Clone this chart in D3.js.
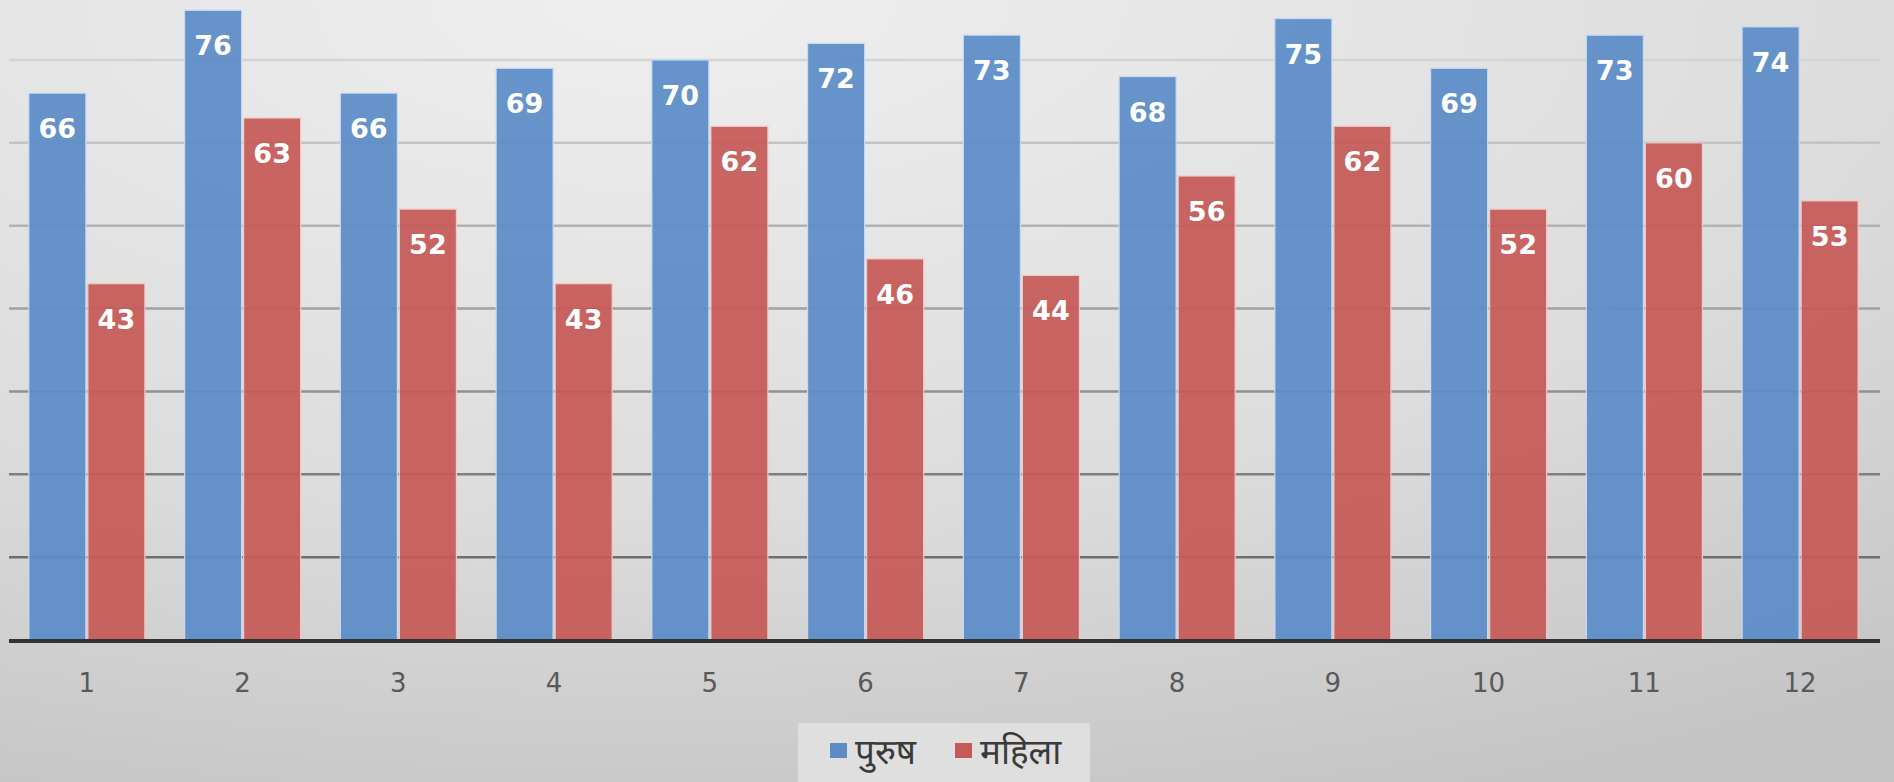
<!DOCTYPE html>
<html>
<head>
<meta charset="utf-8">
<script src="https://cdn.jsdelivr.net/npm/d3@7"></script>
<style>
html,body{margin:0;padding:0;overflow:hidden;}
svg{display:block;}
</style>
</head>
<body>
<svg id="chart" width="1894" height="782"></svg>
<script>
const categories = ["1","2","3","4","5","6","7","8","9","10","11","12"];
const seriesNames = ["पुरुष","महिला"];
const maleValues = [66,76,66,69,70,72,73,68,75,69,73,74];
const femaleValues = [43,63,52,43,62,46,44,56,62,52,60,53];
const gridTicks = [10,20,30,40,50,60,70];
const colors = ["#5b8cc6","#c55a57"];

const W = 1894, H = 782;
const svg = d3.select("#chart");
const defs = svg.append("defs");
const bg = defs.append("radialGradient").attr("id","bg")
  .attr("cx","35%").attr("cy","0%").attr("r","110%");
bg.append("stop").attr("offset","0%").attr("stop-color","#efefef");
bg.append("stop").attr("offset","60%").attr("stop-color","#dcdcdc");
bg.append("stop").attr("offset","100%").attr("stop-color","#c4c4c4");
svg.append("rect").attr("width",W).attr("height",H).attr("fill","url(#bg)");

const x0 = d3.scaleBand().domain(categories).range([9,1878]).paddingInner(0.255).paddingOuter(0.1275);
const x1 = d3.scaleBand().domain([0,1]).range([0,x0.bandwidth()]).paddingInner(0.034);
const y = d3.scaleLinear().domain([0,70]).range([640,60]);

const gridColor = d3.scaleLinear().domain([10,70]).range(["#6e6e6e","#d4d4d4"]);
svg.append("g").selectAll("line").data(gridTicks).join("line")
  .attr("x1",9).attr("x2",1880)
  .attr("y1",d=>y(d)).attr("y2",d=>y(d))
  .attr("stroke",d=>gridColor(d)).attr("stroke-width",2.5);

const data = categories.map((c,i)=>({cat:c, vals:[maleValues[i], femaleValues[i]]}));

const groups = svg.append("g").selectAll("g").data(data).join("g")
  .attr("transform",d=>`translate(${x0(d.cat)},0)`);

groups.selectAll("rect").data(d=>d.vals.map((v,k)=>({v,k}))).join("rect")
  .attr("x",d=>x1(d.k)).attr("width",x1.bandwidth())
  .attr("y",d=>y(d.v)).attr("height",d=>y(0)-y(d.v))
  .attr("fill",d=>colors[d.k]).attr("fill-opacity",0.93)
  .attr("stroke",d=>d.k===0?"#c4daf2":"#f0c8c6").attr("stroke-width",1.2);

groups.selectAll("text").data(d=>d.vals.map((v,k)=>({v,k}))).join("text")
  .attr("x",d=>x1(d.k)+x1.bandwidth()/2)
  .attr("y",d=>y(d.v)+45)
  .attr("text-anchor","middle")
  .attr("fill","#ffffff")
  .attr("font-family","'DejaVu Sans', Verdana, sans-serif")
  .attr("font-weight","bold")
  .attr("font-size","27px")
  .text(d=>d.v);

// x axis
const xAxis = svg.append("g").attr("transform","translate(0,640)")
  .call(d3.axisBottom(x0).tickSize(0).tickPadding(0));
xAxis.select(".domain").remove();
xAxis.selectAll("text")
  .attr("dy",null).attr("y",52)
  .attr("fill","#595959")
  .attr("font-family","'DejaVu Sans', sans-serif")
  .attr("font-size","26px");
svg.append("line").attr("x1",9).attr("x2",1880).attr("y1",641).attr("y2",641)
  .attr("stroke","#333333").attr("stroke-width",4);

// legend
const lg = svg.append("g");
lg.append("rect").attr("x",798).attr("y",723).attr("width",292).attr("height",70)
  .attr("fill","#e4e4e4").attr("opacity",0.8);
const legendX = [830, 955];
seriesNames.forEach((n,i)=>{
  lg.append("rect").attr("x",legendX[i]).attr("y",743).attr("width",17).attr("height",15)
    .attr("fill",colors[i]);
  lg.append("text").attr("x",legendX[i]+25).attr("y",764)
    .attr("fill","#3a3a3a")
    .attr("font-family","'Noto Sans Devanagari','Noto Sans',sans-serif")
    .attr("font-size","35px")
    .text(n);
});
</script>
</body>
</html>
